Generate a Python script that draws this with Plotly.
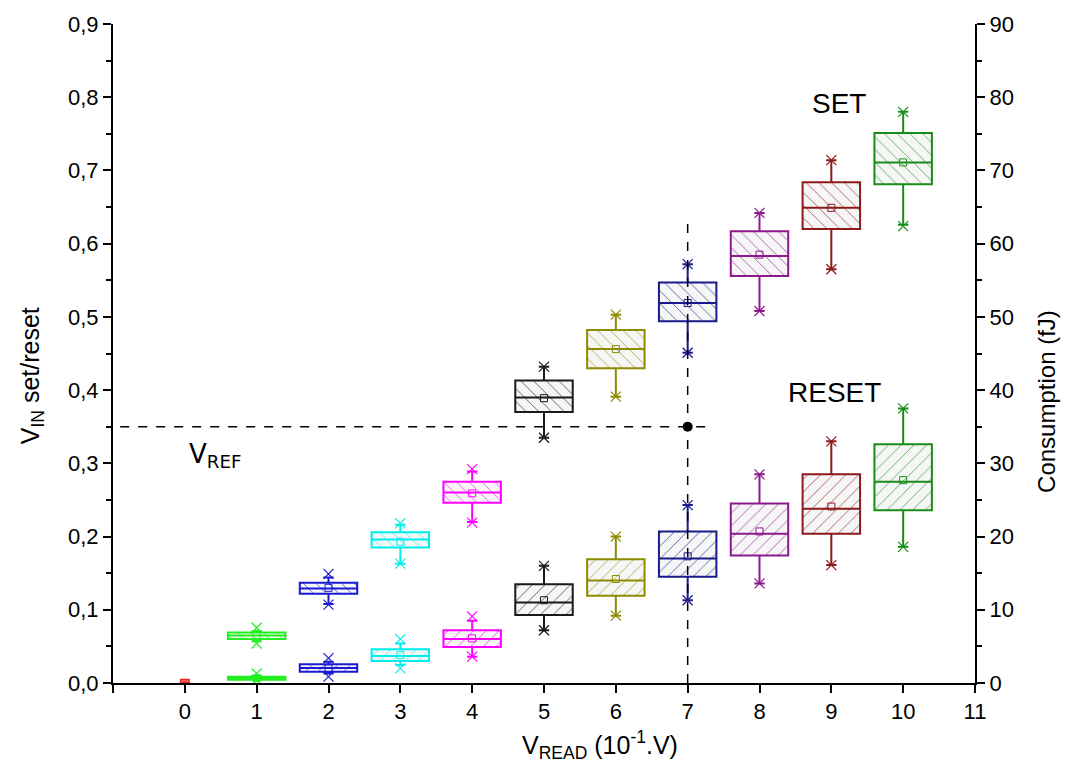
import plotly.graph_objects as go

# ---------------- data ----------------
X_VALS = [1, 2, 3, 4, 5, 6, 7, 8, 9, 10]
COLORS = ["#22ee22", "#1a1ad6", "#00eeee", "#ff00ff", "#1a1a1a",
          "#8c8c00", "#1a1a8c", "#8c1a8c", "#8c1a1a", "#1a8c1a"]

# upper series (SET)
UP_Q1 = [0.060, 0.122, 0.185, 0.246, 0.370, 0.430, 0.494, 0.556, 0.620, 0.681]
UP_MED = [0.065, 0.129, 0.196, 0.260, 0.390, 0.456, 0.519, 0.583, 0.649, 0.711]
UP_Q3 = [0.069, 0.137, 0.206, 0.275, 0.413, 0.482, 0.547, 0.617, 0.684, 0.751]
UP_MEAN = [0.065, 0.130, 0.193, 0.259, 0.389, 0.456, 0.519, 0.585, 0.649, 0.711]
UP_WLO = [0.057, 0.108, 0.163, 0.220, 0.335, 0.391, 0.451, 0.508, 0.565, 0.626]
UP_WHI = [0.071, 0.144, 0.216, 0.289, 0.432, 0.503, 0.572, 0.642, 0.714, 0.780]
UP_MIN = [0.054, 0.107, 0.163, 0.219, 0.335, 0.391, 0.451, 0.508, 0.565, 0.624]
UP_MAX = [0.0755, 0.149, 0.218, 0.292, 0.432, 0.503, 0.572, 0.642, 0.714, 0.780]

# lower series (RESET)
LO_Q1 = [0.0045, 0.0155, 0.030, 0.049, 0.093, 0.119, 0.145, 0.174, 0.204, 0.236]
LO_MED = [0.0065, 0.0205, 0.037, 0.060, 0.110, 0.140, 0.170, 0.204, 0.238, 0.275]
LO_Q3 = [0.0086, 0.0255, 0.046, 0.072, 0.135, 0.169, 0.207, 0.245, 0.285, 0.326]
LO_MEAN = [0.0065, 0.020, 0.038, 0.061, 0.113, 0.142, 0.173, 0.207, 0.241, 0.277]
LO_WLO = [0.004, 0.013, 0.0246, 0.036, 0.072, 0.092, 0.113, 0.136, 0.161, 0.186]
LO_WHI = [0.010, 0.029, 0.054, 0.085, 0.160, 0.200, 0.243, 0.285, 0.330, 0.375]
LO_MIN = [0.004, 0.0086, 0.020, 0.036, 0.072, 0.092, 0.113, 0.136, 0.161, 0.186]
LO_MAX = [0.013, 0.034, 0.060, 0.091, 0.160, 0.200, 0.243, 0.285, 0.330, 0.375]

# x = 0 point (red)
ZERO_X = [0]
ZERO_Q1 = [0.0008]
ZERO_MED = [0.003]
ZERO_Q3 = [0.005]

V_REF = 0.35
V_READ_SEL = 7
X_TICKS = [-1, 0, 1, 2, 3, 4, 5, 6, 7, 8, 9, 10, 11]
X_TICKTEXT = ["", "0", "1", "2", "3", "4", "5", "6", "7", "8", "9", "10", "11"]

FONT = "Liberation Sans, Arial, sans-serif"
BOX_W = 0.8

fig = go.Figure()


def add_series(q1, med, q3, mean, wlo, whi, mn, mx, hatch):
    for i, x in enumerate(X_VALS):
        c = COLORS[i]
        # hatched fill
        fig.add_trace(go.Bar(
            x=[x], y=[q3[i] - q1[i]], base=[q1[i]], width=BOX_W,
            marker=dict(color="white", line=dict(width=0),
                        pattern=dict(shape=hatch, fgcolor=c, bgcolor="#f6f6f6",
                                     fgopacity=0.7, size=9, solidity=0.1)),
            showlegend=False, hoverinfo="skip"))
        # box outline
        fig.add_trace(go.Box(
            x=[x], q1=[q1[i]], median=[med[i]], q3=[q3[i]],
            lowerfence=[wlo[i]], upperfence=[whi[i]],
            width=BOX_W, whiskerwidth=0.18,
            line=dict(color=c, width=2), fillcolor="rgba(0,0,0,0)",
            boxpoints=False, showlegend=False))
        # min / max crosses
        fig.add_trace(go.Scatter(
            x=[x, x], y=[mn[i], mx[i]], mode="markers",
            marker=dict(symbol="x-thin", size=10, line=dict(width=1.2, color=c)),
            showlegend=False, hoverinfo="skip"))
        # mean
        fig.add_trace(go.Scatter(
            x=[x], y=[mean[i]], mode="markers",
            marker=dict(symbol="square-open", size=7, color=c, line=dict(width=1)),
            showlegend=False, hoverinfo="skip"))


add_series(UP_Q1, UP_MED, UP_Q3, UP_MEAN, UP_WLO, UP_WHI, UP_MIN, UP_MAX, "\\")
add_series(LO_Q1, LO_MED, LO_Q3, LO_MEAN, LO_WLO, LO_WHI, LO_MIN, LO_MAX, "/")

# red point at 0
fig.add_trace(go.Box(
    x=ZERO_X, q1=ZERO_Q1, median=ZERO_MED, q3=ZERO_Q3,
    lowerfence=ZERO_Q1, upperfence=ZERO_Q3, width=0.12,
    line=dict(color="#ee2222", width=1.3), fillcolor="rgba(0,0,0,0)",
    boxpoints=False, showlegend=False))

# dashed reference lines
fig.add_trace(go.Scatter(x=[-0.9, 7.3], y=[V_REF, V_REF], mode="lines",
                         line=dict(color="black", width=1.5, dash="dash"),
                         showlegend=False, hoverinfo="skip"))
fig.add_trace(go.Scatter(x=[V_READ_SEL, V_READ_SEL], y=[0, 0.637], mode="lines",
                         line=dict(color="black", width=1.5, dash="dash"),
                         showlegend=False, hoverinfo="skip"))
fig.add_trace(go.Scatter(x=[V_READ_SEL], y=[V_REF], mode="markers",
                         marker=dict(color="black", size=10),
                         showlegend=False, hoverinfo="skip"))

# dummy trace for right axis
fig.add_trace(go.Scatter(x=[None], y=[None], yaxis="y2", showlegend=False))

fig.update_layout(
    width=1070, height=773,
    margin=dict(l=113, r=95, t=24, b=90),
    paper_bgcolor="white", plot_bgcolor="white",
    separators=",.",
    barmode="overlay", boxmode="overlay",
    font=dict(family=FONT, color="black"),
    showlegend=False,
    xaxis=dict(range=[-1, 11], tickmode="array", tickvals=X_TICKS, ticktext=X_TICKTEXT,
               showgrid=False, zeroline=False, showline=True, linecolor="black",
               linewidth=2, ticks="outside", ticklen=8, tickwidth=2, tickcolor="black",
               tickfont=dict(size=22, family=FONT)),
    yaxis=dict(range=[0, 0.9], dtick=0.1, tickformat=".1f", showgrid=False,
               zeroline=False, showline=True, linecolor="black", linewidth=2,
               ticks="outside", ticklen=8, tickwidth=2, tickcolor="black",
               tickfont=dict(size=22, family=FONT),
               minor=dict(dtick=0.05, ticks="outside", ticklen=5, tickwidth=2,
                          tickcolor="black")),
    yaxis2=dict(range=[0, 90], dtick=10, overlaying="y", side="right", anchor="x",
                showgrid=False, zeroline=False, showline=True, linecolor="black",
                linewidth=2, ticks="outside", ticklen=8, tickwidth=2, tickcolor="black",
                tickfont=dict(size=22, family=FONT),
                minor=dict(dtick=5, ticks="outside", ticklen=5, tickwidth=2,
                           tickcolor="black")),
)

fig.add_annotation(text="V<sub>READ</sub> (10<sup>-1</sup>.V)", xref="paper", yref="paper",
                   x=0.565, y=-0.094, showarrow=False, font=dict(size=25, family=FONT),
                   xanchor="center", yanchor="middle")
fig.add_annotation(text="V<sub>IN</sub> set/reset", xref="paper", yref="paper",
                   x=-0.094, y=0.467, showarrow=False, textangle=-90,
                   font=dict(size=25, family=FONT), xanchor="center", yanchor="middle")
fig.add_annotation(text="Consumption (fJ)", xref="paper", yref="paper",
                   x=1.0835, y=0.428, showarrow=False, textangle=-90,
                   font=dict(size=24, family=FONT), xanchor="center", yanchor="middle")
fig.add_annotation(text="SET", x=9.1, y=0.791, showarrow=False,
                   font=dict(size=28, family=FONT))
fig.add_annotation(text="RESET", x=9.05, y=0.397, showarrow=False,
                   font=dict(size=28, family=FONT))
fig.add_annotation(text="V<sub>REF</sub>", x=0.42, y=0.311, showarrow=False,
                   font=dict(size=26, family="DejaVu Sans, sans-serif"))

fig.write_html("out.html")
